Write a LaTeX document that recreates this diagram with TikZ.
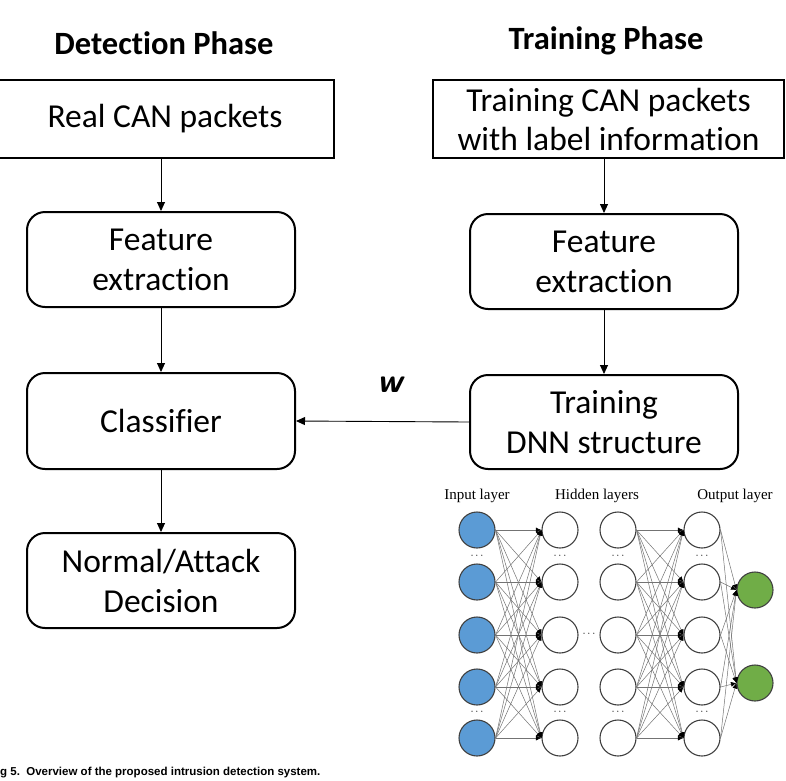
\documentclass[tikz,border=0pt]{standalone}
\usepackage{fontspec}
\setmainfont{Carlito}[Ligatures=NoCommon]
\newfontfamily\nnfont{Liberation Serif}
\newfontfamily\capfont{Liberation Sans}
\usetikzlibrary{arrows.meta}
\definecolor{inblue}{RGB}{91,155,213}
\definecolor{outgreen}{RGB}{112,173,71}
\tikzset{
  sqbox/.style={draw=black, line width=2, minimum height=78, align=center, font=\fontsize{33.5}{39}\selectfont, inner sep=0},
  rbox/.style={draw=black, line width=2, rounded corners=18, minimum width=268, minimum height=95, align=center, font=\fontsize{33.5}{40}\selectfont, inner sep=0},
  flow/.style={line width=0.9, -{Triangle[length=9,width=8]}},
  title/.style={font=\bfseries\fontsize{32.5}{36}\selectfont},
  neuron/.style={circle, draw=black!75, line width=1.1, minimum size=36, inner sep=0},
  nnedge/.style={draw=black!55, line width=0.5, -{Latex[length=5.5,width=5,black]}},
  nnlabel/.style={font=\nnfont\fontsize{15}{18}\selectfont},
  dots/.style={font=\nnfont\fontsize{11}{12}\selectfont, inner sep=0}
}
\begin{document}
\begin{tikzpicture}[x=1pt,y=-1pt]
\useasboundingbox (0,0) rectangle (786,780);

% titles
\node[title] (t1) at (164,43) {Detection Phase};
\node[title] (t2) at (606,41) {Training Phase};

% boxes
\node[sqbox, minimum width=338] (rc) at (165,119) {Real CAN packets};
\node[sqbox, minimum width=351] (tc) at (608.5,119) {Training CAN packets\\with label information};
\node[rbox] (fel) at (161,259.5) {Feature\\extraction};
\node[rbox] (fer) at (604,261.5) {Feature\\extraction};
\node[rbox, minimum height=96] (cls) at (161,421) {Classifier};
\node[rbox, minimum height=94] (dnn) at (604,422) {Training\\DNN structure};
\node[rbox] (dec) at (161,580.5) {Normal/Attack\\Decision};

% arrows
\draw[flow] (rc.south -| fel.north) -- (fel.north);
\draw[flow] (fel.south) -- (cls.north);
\draw[flow] (cls.south) -- (dec.north);
\draw[flow] (tc.south -| fer.north) -- (fer.north);
\draw[flow] (fer.south) -- (dnn.north);
\draw[flow] (dnn.west) -- (cls.east);
\node[font=\sffamily\bfseries\itshape\fontsize{34}{38}\selectfont] (w) at (390,385) {w};

% neural network labels
\node[nnlabel] (l1) at (477,496) {Input layer};
\node[nnlabel] (l2) at (597,496) {Hidden layers};
\node[nnlabel] (l3) at (735,496) {Output layer};

% neurons
\foreach \i/\y in {1/530,2/582,3/635,4/687,5/738} {
  \node[neuron, fill=inblue] (a\i) at (477,\y) {};
  \node[neuron, fill=white] (b\i) at (560,\y) {};
  \node[neuron, fill=white] (c\i) at (618,\y) {};
  \node[neuron, fill=white] (d\i) at (702,\y) {};
}
\node[neuron, fill=outgreen] (o1) at (755,590) {};
\node[neuron, fill=outgreen] (o2) at (755,683) {};

% dots
\foreach \x/\n in {477/a,560/b,618/c,702/d} {
  \node[dots] (\n u) at (\x,556) {$\cdots$};
  \node[dots] (\n l) at (\x,712) {$\cdots$};
}
\node[dots] (mid) at (589,634) {$\cdots$};

% edges
\foreach \i in {1,...,5} {
  \foreach \j in {1,...,5} {
    \draw[nnedge] (a\i.east) -- (b\j.west);
    \draw[nnedge] (c\i.east) -- (d\j.west);
  }
  \draw[nnedge] (d\i.east) -- (o1.west);
  \draw[nnedge] (d\i.east) -- (o2.west);
}

% caption
\node[anchor=west, font=\capfont\bfseries\fontsize{11.5}{13}\selectfont, inner sep=0] (cap) at (0,773) {g 5.\ \ Overview of the proposed intrusion detection system.};
\end{tikzpicture}
\end{document}
